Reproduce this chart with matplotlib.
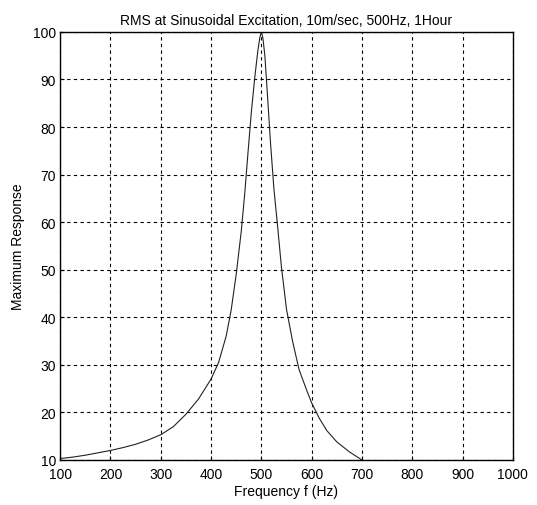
import matplotlib.pyplot as plt

# Frequency (Hz) and response
freq = [100, 125, 150, 175, 200, 225, 250, 275, 300, 325, 350, 375, 400, 415, 430, 440,
        450, 460, 467, 473, 480, 487, 493, 497, 500,
        503, 507, 512, 518, 525, 532, 540, 550, 562, 575, 590, 600, 615, 630, 650, 675, 700]
resp = [10.3, 10.6, 11.0, 11.5, 12.0, 12.6, 13.3, 14.2, 15.3, 17.0, 19.6, 22.8, 27.0, 30.5, 36.0, 41.5,
        49.0, 58.0, 66.0, 74.0, 83.0, 90.5, 96.0, 98.8, 100.0,
        98.8, 95.0, 87.0, 77.0, 67.0, 59.5, 50.5, 41.7, 35.0, 29.0, 24.7, 22.0, 18.8, 16.2, 13.8, 11.7, 10.0]

xticks = [100, 200, 300, 400, 500, 600, 700, 800, 900, 1000]
yticks = [10, 20, 30, 40, 50, 60, 70, 80, 90, 100]

plt.rcParams['font.family'] = ['Liberation Sans', 'DejaVu Sans']

fig = plt.figure(figsize=(5.37, 5.06), dpi=100)
ax = fig.add_axes([0.112, 0.089, 0.843, 0.846])

ax.plot(freq, resp, color='#222222', linewidth=0.8)

ax.set_xlim(100, 1000)
ax.set_ylim(10, 100)
ax.set_xticks(xticks)
ax.set_yticks(yticks)
ax.tick_params(direction='in', length=3, labelsize=10)
ax.tick_params(axis='x', pad=5)
ax.tick_params(axis='y', pad=3)
ax.grid(True, color='black', linestyle=(0, (3, 3)), linewidth=0.8)
for s in ax.spines.values():
    s.set_linewidth(1.0)

ax.set_title('RMS at Sinusoidal Excitation, 10m/sec, 500Hz, 1Hour', fontsize=10, pad=6)
ax.set_xlabel('Frequency f (Hz)', fontsize=10, labelpad=2)
ax.set_ylabel('Maximum Response', fontsize=10, labelpad=6)

fig.savefig('out.png', dpi=100)
